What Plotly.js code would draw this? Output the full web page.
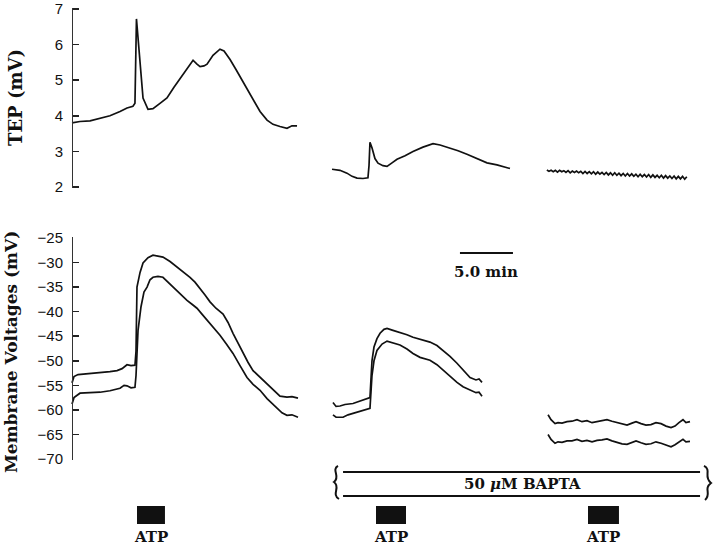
<!DOCTYPE html>
<html>
<head>
<meta charset="utf-8">
<script src="https://cdn.plot.ly/plotly-3.0.1.min.js"></script>
<style>
  html, body { margin: 0; padding: 0; background: #fff; }
  #grafico { width: 720px; height: 545px; }
</style>
</head>
<body>
<div id="grafico"></div>
<script>
// time in minutes from the start of the record, voltages in mV
const tepT1 = [0, 0.75, 1.70, 2.64, 3.58, 4.53, 5.19, 5.75, 5.94, 6.08, 6.23, 6.42, 6.70, 7.17, 7.64, 8.30, 8.96, 9.62, 10.19, 10.85, 11.42, 11.79, 12.08, 12.45, 12.74, 13.30, 13.96, 14.34, 14.91, 15.47, 16.04, 16.51, 17.08, 17.74, 18.40, 18.96, 19.62, 20.28, 20.75, 21.23];
const tep1 = [3.80, 3.84, 3.86, 3.92, 4.00, 4.12, 4.22, 4.27, 4.35, 6.72, 6.20, 5.30, 4.50, 4.18, 4.20, 4.35, 4.50, 4.80, 5.04, 5.35, 5.56, 5.45, 5.38, 5.40, 5.45, 5.70, 5.87, 5.82, 5.58, 5.30, 5.00, 4.77, 4.45, 4.12, 3.88, 3.76, 3.70, 3.65, 3.72, 3.72];

const tepT2 = [24.53, 25.28, 25.94, 26.42, 26.89, 27.45, 27.92, 28.02, 28.11, 28.30, 28.58, 28.87, 29.34, 29.72, 30.19, 30.66, 31.42, 32.17, 33.11, 34.06, 34.72, 35.66, 36.42, 37.26, 38.21, 39.15, 40.09, 40.85, 41.32];
const tep2 = [2.50, 2.47, 2.39, 2.30, 2.25, 2.24, 2.26, 2.60, 3.26, 3.10, 2.80, 2.67, 2.60, 2.58, 2.68, 2.78, 2.88, 3.00, 3.12, 3.22, 3.18, 3.10, 3.02, 2.92, 2.80, 2.68, 2.62, 2.57, 2.52];

const tepT3 = [44.8, 45.0, 45.2, 45.4, 45.6, 45.8, 46.0, 46.2, 46.4, 46.6, 46.8, 47.0, 47.2, 47.4, 47.6, 47.8, 48.0, 48.2, 48.4, 48.6, 48.8, 49.0, 49.2, 49.4, 49.6, 49.8, 50.0, 50.2, 50.4, 50.6, 50.8, 51.0, 51.2, 51.4, 51.6, 51.8, 52.0, 52.2, 52.4, 52.6, 52.8, 53.0, 53.2, 53.4, 53.6, 53.8, 54.0, 54.2, 54.4, 54.6, 54.8, 55.0, 55.2, 55.4, 55.6, 55.8, 56.0, 56.2, 56.4, 56.6, 56.8, 57.0, 57.2, 57.4, 57.6, 57.8, 58.0];
const tep3 = [2.48, 2.44, 2.47, 2.43, 2.47, 2.42, 2.47, 2.43, 2.46, 2.41, 2.46, 2.40, 2.45, 2.41, 2.45, 2.40, 2.44, 2.38, 2.44, 2.38, 2.43, 2.37, 2.43, 2.36, 2.42, 2.36, 2.41, 2.35, 2.41, 2.34, 2.40, 2.33, 2.40, 2.33, 2.39, 2.32, 2.38, 2.31, 2.38, 2.31, 2.37, 2.30, 2.36, 2.29, 2.36, 2.29, 2.35, 2.28, 2.35, 2.27, 2.34, 2.27, 2.33, 2.26, 2.33, 2.25, 2.32, 2.25, 2.31, 2.24, 2.31, 2.23, 2.30, 2.23, 2.30, 2.22, 2.29];

const vmT1a = [0, 0.19, 0.57, 1.70, 2.64, 3.58, 4.25, 4.72, 5.19, 5.57, 5.94, 6.04, 6.13, 6.42, 6.70, 7.17, 7.64, 8.11, 8.58, 9.25, 9.91, 10.47, 11.13, 11.60, 12.08, 12.55, 13.02, 13.58, 14.25, 14.72, 15.19, 15.66, 16.13, 16.60, 17.08, 17.74, 18.40, 18.96, 19.62, 20.28, 20.75, 21.32];
const vmUp1 = [-54.5, -53.2, -52.8, -52.6, -52.5, -52.2, -52.0, -51.6, -50.8, -51.0, -50.9, -48.0, -35.0, -32.0, -30.1, -29.0, -28.5, -28.7, -28.9, -29.8, -30.9, -31.8, -33.0, -34.0, -35.2, -36.6, -38.0, -39.3, -40.5, -42.2, -44.4, -46.4, -48.5, -50.3, -52.0, -53.4, -54.6, -55.9, -57.2, -57.4, -57.3, -57.6];
const vmT1b = [0, 0.19, 0.75, 1.70, 2.64, 3.58, 4.53, 4.91, 5.19, 5.57, 5.94, 6.04, 6.23, 6.51, 6.79, 7.08, 7.36, 7.64, 8.11, 8.58, 9.06, 9.53, 10.19, 10.85, 11.32, 11.79, 12.26, 12.74, 13.30, 13.96, 14.53, 15.19, 15.85, 16.51, 17.08, 17.74, 18.40, 18.96, 19.34, 19.81, 20.28, 20.75, 21.32];
const vmLow1 = [-58.8, -57.5, -56.6, -56.5, -56.4, -56.1, -55.6, -55.0, -55.1, -55.5, -55.4, -53.0, -43.8, -39.0, -36.0, -35.0, -33.5, -33.0, -32.8, -33.0, -34.0, -35.0, -36.2, -37.7, -38.5, -39.3, -40.5, -41.7, -43.2, -44.8, -46.5, -48.5, -51.0, -53.4, -54.8, -56.0, -57.7, -58.8, -59.5, -60.6, -61.1, -61.0, -61.5];

const vmT2a = [24.62, 24.91, 25.28, 25.75, 26.51, 27.17, 27.92, 28.11, 28.30, 28.49, 28.77, 29.06, 29.43, 29.72, 30.28, 30.94, 31.60, 32.17, 32.83, 33.77, 34.43, 35.00, 35.66, 36.32, 36.89, 37.55, 38.11, 38.40, 38.68];
const vmUp2 = [-58.5, -59.3, -59.2, -58.9, -58.7, -58.2, -57.7, -57.5, -50.0, -47.2, -45.5, -44.4, -43.6, -43.4, -43.8, -44.2, -44.7, -45.2, -45.6, -46.2, -46.9, -47.9, -49.1, -50.5, -51.9, -53.4, -53.9, -53.7, -54.4];
const vmT2b = [24.62, 24.91, 25.57, 26.04, 26.51, 27.17, 27.92, 28.11, 28.30, 28.49, 28.77, 29.25, 29.72, 30.28, 30.94, 31.60, 32.17, 32.83, 33.77, 34.43, 35.00, 35.66, 36.32, 36.89, 37.55, 38.11, 38.40, 38.68];
const vmLow2 = [-61.0, -61.5, -61.5, -61.0, -60.7, -60.3, -59.9, -59.7, -53.0, -50.0, -47.9, -46.6, -46.0, -46.3, -46.8, -47.6, -48.5, -49.3, -49.9, -50.8, -51.9, -53.1, -54.4, -55.3, -56.0, -56.5, -56.4, -57.2];

const vmT3 = [44.91, 45.19, 45.57, 45.85, 46.23, 46.70, 47.17, 47.64, 48.11, 48.58, 49.06, 49.53, 50.00, 50.47, 50.94, 51.42, 51.89, 52.36, 52.83, 53.21, 53.68, 54.15, 54.62, 55.09, 55.57, 56.04, 56.51, 56.89, 57.26, 57.64, 57.92, 58.30];
const vmUp3 = [-61.0, -62.0, -62.8, -62.6, -62.7, -62.4, -62.3, -62.0, -62.4, -62.2, -62.6, -62.4, -62.3, -62.0, -62.3, -62.6, -62.9, -63.1, -62.7, -62.4, -62.8, -63.1, -63.0, -62.6, -62.8, -63.3, -63.6, -63.3, -62.6, -62.0, -62.6, -62.4];
const vmLow3 = [-65.0, -66.0, -66.8, -66.5, -66.6, -66.3, -66.3, -66.0, -66.4, -66.2, -66.5, -66.2, -66.1, -65.9, -66.3, -66.6, -66.9, -67.0, -66.6, -66.3, -66.7, -67.0, -66.9, -66.5, -66.8, -67.2, -67.5, -67.1, -66.5, -66.0, -66.5, -66.4];

// ATP applications and BAPTA period (minutes)
const atpStart = [6.13, 28.68, 48.68];
const atpEnd = [8.77, 31.51, 51.60];
const atpLabel = ['ATP', 'ATP', 'ATP'];
const baptaStart = 25.57;
const baptaEnd = 59.25;
const scaleBar = [36.6, 41.6];

const tepTicks = [2, 3, 4, 5, 6, 7];
const vmTicks = [-70, -65, -60, -55, -50, -45, -40, -35, -30, -25];

const W = 720, H = 545;
const px = (x, y) => `${(x / W).toFixed(4)},${(1 - y / H).toFixed(4)}`;
const py = y => 1 - y / H;

const negro = '#111';
const linea = { color: negro, width: 1.7 };
const serif = 'DejaVu Serif, Liberation Serif, serif';

const trazas = [
  [tepT1, tep1, 'y'], [tepT2, tep2, 'y'], [tepT3, tep3, 'y'],
  [vmT1a, vmUp1, 'y2'], [vmT1b, vmLow1, 'y2'],
  [vmT2a, vmUp2, 'y2'], [vmT2b, vmLow2, 'y2'],
  [vmT3, vmUp3, 'y2'], [vmT3, vmLow3, 'y2']
].map(([x, y, ax]) => ({ x, y, yaxis: ax, mode: 'lines', line: linea, hoverinfo: 'skip' }));

const ejeY = {
  anchor: 'free', position: 72 / W,
  ticks: 'inside', ticklen: 6, tickwidth: 1.5, tickcolor: '#222',
  showline: true, linecolor: '#333', linewidth: 1.3,
  showgrid: false, zeroline: false,
  ticklabelstandoff: 6, ticklabeloverflow: 'allow',
  tickfont: { family: 'Liberation Sans, Arial, sans-serif', size: 15, color: negro }
};

const shapes = [];
atpStart.forEach((s, i) => {
  shapes.push({ type: 'rect', xref: 'x', yref: 'paper', x0: s, x1: atpEnd[i], y0: py(524), y1: py(506),
    fillcolor: negro, line: { width: 0 } });
});
shapes.push({ type: 'line', xref: 'x', yref: 'paper', x0: baptaStart, x1: baptaEnd, y0: py(472), y1: py(472), line: { color: negro, width: 2.2 } });
shapes.push({ type: 'line', xref: 'x', yref: 'paper', x0: baptaStart, x1: baptaEnd, y0: py(496), y1: py(496), line: { color: negro, width: 2.2 } });
shapes.push({ type: 'line', xref: 'x', yref: 'paper', x0: scaleBar[0], x1: scaleBar[1], y0: py(253), y1: py(253), line: { color: negro, width: 2.2 } });
// curly ends of the BAPTA bar
shapes.push({ type: 'path', xref: 'paper', yref: 'paper', line: { color: negro, width: 2 },
  path: `M ${px(338, 466)} C ${px(331, 470)} ${px(341, 477)} ${px(334, 482)} C ${px(341, 487)} ${px(331, 494)} ${px(339, 499)}` });
shapes.push({ type: 'path', xref: 'paper', yref: 'paper', line: { color: negro, width: 2 },
  path: `M ${px(704, 466)} C ${px(712, 470)} ${px(703, 477)} ${px(711, 483)} C ${px(703, 489)} ${px(712, 494)} ${px(705, 500)}` });

const rotulo = (text, xref, x, y, size, angle) => ({
  text, xref, yref: 'paper', x, y, xanchor: 'center', yanchor: 'middle', textangle: angle || 0,
  showarrow: false, font: { family: serif, size, color: negro, weight: 'bold' }
});

const annotations = [
  rotulo('TEP (mV)', 'paper', 15 / W, py(98), 18, -90),
  rotulo('Membrane Voltages (mV)', 'paper', 11 / W, py(352), 17, -90),
  rotulo('5.0 min', 'x', (scaleBar[0] + scaleBar[1]) / 2, py(272), 15),
  rotulo('50 <i>μ</i>M BAPTA', 'x', (522 - 72) / 10.6, py(484), 15)
];
atpLabel.forEach((t, i) => {
  annotations.push(rotulo(t, 'x', (atpStart[i] + atpEnd[i]) / 2, py(537), 15));
});

Plotly.newPlot('grafico', trazas, {
  width: W, height: H,
  margin: { l: 0, r: 0, t: 0, b: 0 },
  paper_bgcolor: '#fff', plot_bgcolor: '#fff',
  showlegend: false,
  xaxis: { domain: [0, 1], range: [-72 / 10.6, (W - 72) / 10.6], visible: false },
  yaxis: Object.assign({}, ejeY, { domain: [py(188.1), py(7.9)], range: [1.97, 7.03], tickvals: tepTicks }),
  yaxis2: Object.assign({}, ejeY, { domain: [py(460), py(237)], range: [-70.2, -24.8], tickvals: vmTicks }),
  shapes, annotations
}, { staticPlot: true });
</script>
</body>
</html>
